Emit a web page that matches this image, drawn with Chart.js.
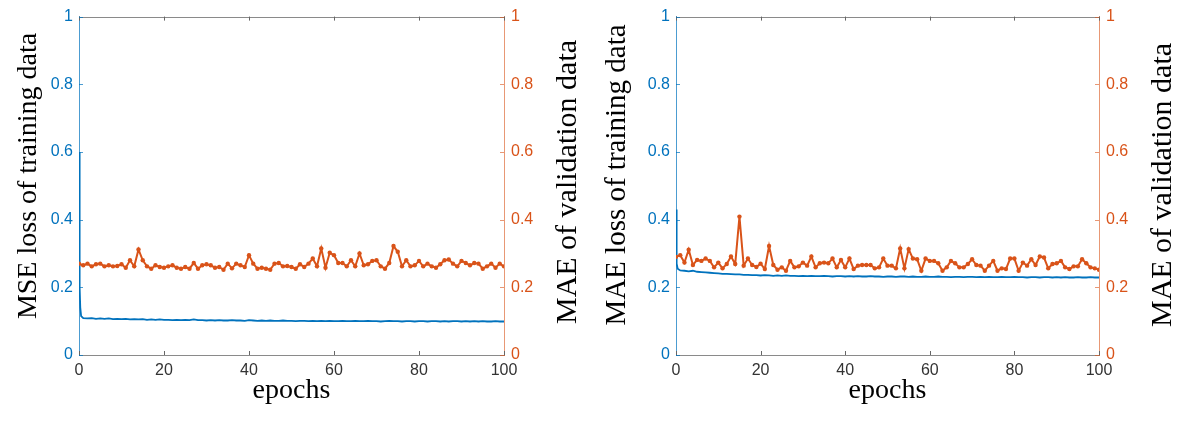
<!DOCTYPE html>
<html>
<head>
<meta charset="utf-8">
<script src="https://cdn.jsdelivr.net/npm/chart.js@4.4.1/dist/chart.umd.min.js"></script>
<style>
  html, body { margin: 0; padding: 0; background: #ffffff; }
  #wrap { position: relative; width: 1184px; height: 428px; overflow: hidden; }
  canvas { position: absolute; top: 0; }
</style>
</head>
<body>
<div id="wrap">
  <canvas id="c1" width="592" height="428" style="left:0px"></canvas>
  <canvas id="c2" width="592" height="428" style="left:592px"></canvas>
</div>
<script>
// ---------- DATA ----------
const xTicks = [0, 20, 40, 60, 80, 100];
const yTicks = [0, 0.2, 0.4, 0.6, 0.8, 1];
const yTickLabels = ['0', '0.2', '0.4', '0.6', '0.8', '1'];

const valEpochs = [0,1,2,3,4,5,6,7,8,9,10,11,12,13,14,15,16,17,18,19,20,21,22,23,24,25,26,27,28,29,30,
  31,32,33,34,35,36,37,38,39,40,41,42,43,44,45,46,47,48,49,50,51,52,53,54,55,56,57,58,59,60,
  61,62,63,64,65,66,67,68,69,70,71,72,73,74,75,76,77,78,79,80,81,82,83,84,85,86,87,88,89,90,
  91,92,93,94,95,96,97,98,99,100];

const trainEpochsMSE = [0,0.1,0.2,0.3,0.5,1,2,3,4,5,6,7,8,9,10,11,12,13,14,15,16,17,18,19,20,21,22,23,24,25,26,27,28,29,30,
  31,32,33,34,35,36,37,38,39,40,41,42,43,44,45,46,47,48,49,50,51,52,53,54,55,56,57,58,59,60,
  61,62,63,64,65,66,67,68,69,70,71,72,73,74,75,76,77,78,79,80,81,82,83,84,85,86,87,88,89,90,
  91,92,93,94,95,96,97,98,99,100];
const trainEpochsMAE = [0,0.1,0.2,0.4,1,2,3,4,5,6,7,8,9,10,11,12,13,14,15,16,17,18,19,20,21,22,23,24,25,26,27,28,29,30,
  31,32,33,34,35,36,37,38,39,40,41,42,43,44,45,46,47,48,49,50,51,52,53,54,55,56,57,58,59,60,
  61,62,63,64,65,66,67,68,69,70,71,72,73,74,75,76,77,78,79,80,81,82,83,84,85,86,87,88,89,90,
  91,92,93,94,95,96,97,98,99,100];

// left chart: MSE loss of training data (blue)
const mseTrain = [0.6,0.35,0.2,0.14,0.115,
  0.109,0.108,0.109,0.107,0.108,0.107,0.108,0.106,0.107,0.106,
  0.107,0.105,0.106,0.105,0.106,0.104,0.105,0.104,0.105,0.104,
  0.104,0.103,0.104,0.103,0.104,0.103,0.105,0.103,0.103,0.102,
  0.103,0.102,0.103,0.102,0.102,0.103,0.102,0.102,0.101,0.103,
  0.102,0.101,0.102,0.101,0.102,0.101,0.101,0.102,0.101,0.101,
  0.100,0.101,0.101,0.100,0.101,0.100,0.101,0.100,0.101,0.100,
  0.100,0.101,0.100,0.100,0.101,0.100,0.100,0.101,0.100,0.100,
  0.099,0.100,0.101,0.100,0.100,0.099,0.100,0.100,0.099,0.100,
  0.100,0.099,0.100,0.100,0.099,0.100,0.099,0.100,0.100,0.099,
  0.100,0.099,0.100,0.099,0.100,0.099,0.099,0.100,0.099,0.099];

// left chart: MAE of validation data (orange)
const maeValLeft = [0.27,0.265,0.27,0.262,0.268,0.27,0.262,0.265,0.262,0.263,0.268,
  0.258,0.28,0.262,0.312,0.28,0.262,0.255,0.265,0.26,0.258,
  0.262,0.265,0.258,0.255,0.26,0.255,0.272,0.255,0.265,0.268,
  0.265,0.258,0.26,0.252,0.27,0.256,0.27,0.265,0.26,0.295,
  0.27,0.255,0.258,0.255,0.252,0.27,0.272,0.262,0.263,0.26,
  0.255,0.268,0.26,0.27,0.285,0.262,0.315,0.258,0.302,0.295,
  0.272,0.272,0.262,0.28,0.262,0.3,0.265,0.268,0.278,0.28,
  0.262,0.255,0.272,0.322,0.305,0.262,0.28,0.262,0.265,0.278,
  0.262,0.27,0.262,0.258,0.268,0.28,0.282,0.27,0.262,0.278,
  0.272,0.265,0.272,0.27,0.255,0.262,0.27,0.258,0.27,0.262];

// right chart: MAE loss of training data (blue)
const maeTrain = [0.43,0.33,0.27,0.255,
  0.250,0.249,0.247,0.249,0.246,0.245,0.244,0.243,0.242,0.241,
  0.240,0.240,0.239,0.238,0.238,0.237,0.237,0.236,0.236,0.235,
  0.236,0.235,0.234,0.235,0.234,0.235,0.234,0.234,0.233,0.234,
  0.233,0.234,0.233,0.233,0.234,0.233,0.232,0.233,0.233,0.232,
  0.233,0.232,0.233,0.232,0.232,0.233,0.232,0.232,0.231,0.232,
  0.232,0.231,0.232,0.232,0.231,0.232,0.231,0.231,0.232,0.231,
  0.231,0.232,0.231,0.231,0.230,0.231,0.231,0.230,0.231,0.231,
  0.230,0.231,0.230,0.231,0.230,0.230,0.231,0.230,0.230,0.231,
  0.230,0.230,0.229,0.230,0.230,0.229,0.230,0.230,0.229,0.230,
  0.229,0.230,0.229,0.229,0.230,0.229,0.229,0.230,0.229,0.229];

// right chart: MAE of validation data (orange)
const maeValRight = [0.29,0.295,0.273,0.311,0.266,0.281,0.278,0.285,0.278,0.259,0.273,
  0.256,0.269,0.291,0.269,0.409,0.264,0.285,0.266,0.26,0.27,
  0.254,0.322,0.266,0.252,0.259,0.249,0.278,0.259,0.262,0.273,
  0.264,0.291,0.259,0.271,0.273,0.271,0.285,0.259,0.281,0.259,
  0.285,0.254,0.264,0.266,0.266,0.266,0.256,0.259,0.285,0.264,
  0.264,0.256,0.315,0.256,0.313,0.285,0.283,0.249,0.285,0.278,
  0.278,0.271,0.249,0.259,0.278,0.271,0.259,0.259,0.269,0.283,
  0.266,0.264,0.249,0.264,0.278,0.249,0.256,0.254,0.285,0.285,
  0.249,0.273,0.264,0.283,0.266,0.291,0.288,0.256,0.269,0.271,
  0.278,0.259,0.254,0.262,0.262,0.283,0.271,0.259,0.256,0.252];

// ---------- STYLE ----------
const BLUE = 'rgb(0,114,189)';
const ORANGE = 'rgb(217,83,25)';
const TICK_FONT = { family: '"Liberation Sans", Arial, sans-serif', size: 16 };
const TITLE_FAMILY = '"Liberation Serif", "Times New Roman", serif';

const pairs = (xs, ys) => xs.map((x, i) => ({ x: x, y: ys[i] }));
const yLabel = v => { const i = yTicks.indexOf(v); return i >= 0 ? yTickLabels[i] : ''; };

const decor = {
  id: 'decor',
  afterDraw(chart, args, o) {
    const { ctx, chartArea: a, scales } = chart;
    ctx.save();
    ctx.lineWidth = 1;
    // top box line
    ctx.strokeStyle = '#8a8a8a';
    ctx.beginPath();
    ctx.moveTo(a.left, Math.round(a.top) + 0.5);
    ctx.lineTo(a.right, Math.round(a.top) + 0.5);
    ctx.stroke();
    // inward x ticks (bottom and top)
    scales.x.ticks.forEach(t => {
      const px = Math.round(scales.x.getPixelForValue(t.value)) + 0.5;
      ctx.strokeStyle = '#666';
      ctx.beginPath();
      ctx.moveTo(px, a.bottom); ctx.lineTo(px, a.bottom - 4);
      ctx.moveTo(px, a.top); ctx.lineTo(px, a.top + 4);
      ctx.stroke();
    });
    // inward y ticks
    scales.y.ticks.forEach(t => {
      const py = Math.round(scales.y.getPixelForValue(t.value)) + 0.5;
      ctx.strokeStyle = 'rgba(0,114,189,0.7)';
      ctx.beginPath(); ctx.moveTo(a.left, py); ctx.lineTo(a.left + 4, py); ctx.stroke();
    });
    scales.y1.ticks.forEach(t => {
      const py = Math.round(scales.y1.getPixelForValue(t.value)) + 0.5;
      ctx.strokeStyle = 'rgba(217,83,25,0.6)';
      ctx.beginPath(); ctx.moveTo(a.right, py); ctx.lineTo(a.right - 4, py); ctx.stroke();
    });
    // y titles, both reading bottom-to-top
    ctx.fillStyle = '#000';
    ctx.textAlign = 'center';
    ctx.textBaseline = 'middle';
    [[o.leftTitle, o.leftX, o.leftY, o.leftSize], [o.rightTitle, o.rightX, o.rightY, o.rightSize]].forEach(([txt, x, y, sz]) => {
      ctx.save();
      ctx.font = sz + 'px ' + TITLE_FAMILY;
      ctx.translate(x, y);
      ctx.rotate(-Math.PI / 2);
      ctx.fillText(txt, 0, 0);
      ctx.restore();
    });
    ctx.restore();
  }
};

function makeChart(id, trainX, trainY, valX, valY, leftW, rightW, titles) {
  return new Chart(document.getElementById(id), {
    type: 'line',
    data: {
      datasets: [
        {
          data: pairs(trainX, trainY), yAxisID: 'y',
          borderColor: BLUE, borderWidth: 1.8, pointRadius: 0, tension: 0, order: 2
        },
        {
          data: pairs(valX, valY), yAxisID: 'y1',
          borderColor: ORANGE, borderWidth: 2, pointRadius: 2.2,
          pointBackgroundColor: ORANGE, pointBorderColor: ORANGE, pointBorderWidth: 0,
          tension: 0, order: 1
        }
      ]
    },
    plugins: [decor],
    options: {
      responsive: false,
      animation: false,
      layout: { padding: { top: 14, bottom: 0, left: 0, right: 0 } },
      plugins: {
        legend: { display: false },
        tooltip: { enabled: false },
        decor: titles
      },
      scales: {
        x: {
          type: 'linear', min: 0, max: 100,
          afterBuildTicks: s => { s.ticks = xTicks.map(v => ({ value: v })); },
          afterFit: s => { s.height = 73; },
          grid: { display: true, drawOnChartArea: false, drawTicks: false },
          border: { color: '#8a8a8a', width: 1 },
          ticks: { color: '#333', font: TICK_FONT, padding: 6, maxRotation: 0, callback: v => String(v) },
          title: {
            display: true, text: 'epochs', color: '#000',
            font: { family: TITLE_FAMILY, size: 28 }, padding: { top: 0, bottom: 21 }
          }
        },
        y: {
          position: 'left', min: 0, max: 1,
          afterBuildTicks: s => { s.ticks = yTicks.map(v => ({ value: v })); },
          afterFit: s => { s.width = leftW; },
          grid: { display: true, drawOnChartArea: false, drawTicks: false },
          border: { color: 'rgba(0,114,189,0.7)', width: 1 },
          ticks: { color: BLUE, font: TICK_FONT, padding: 6, callback: yLabel }
        },
        y1: {
          position: 'right', min: 0, max: 1,
          afterBuildTicks: s => { s.ticks = yTicks.map(v => ({ value: v })); },
          afterFit: s => { s.width = rightW; },
          grid: { display: true, drawOnChartArea: false, drawTicks: false },
          border: { color: 'rgba(217,83,25,0.6)', width: 1 },
          ticks: { color: ORANGE, font: TICK_FONT, padding: 7, callback: yLabel }
        }
      }
    }
  });
}

makeChart('c1', trainEpochsMSE, mseTrain, valEpochs, maeValLeft, 79, 88, {
  leftTitle: 'MSE loss of training data', leftX: 29, leftY: 176, leftSize: 28,
  rightTitle: 'MAE of validation data', rightX: 568, rightY: 182, rightSize: 30
});
makeChart('c2', trainEpochsMAE, maeTrain, valEpochs, maeValRight, 84, 85, {
  leftTitle: 'MAE loss of training data', leftX: 25, leftY: 175, leftSize: 29,
  rightTitle: 'MAE of validation data', rightX: 571, rightY: 185, rightSize: 30
});
</script>
</body>
</html>
